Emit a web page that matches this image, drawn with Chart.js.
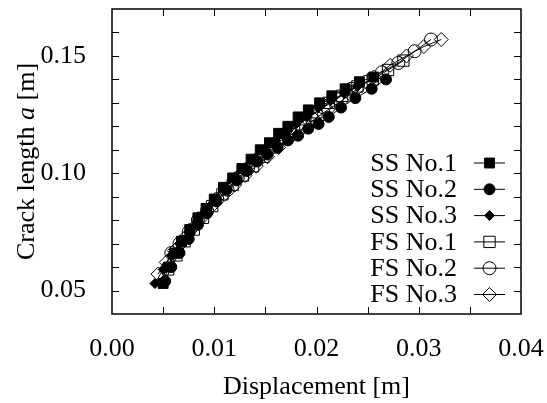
<!DOCTYPE html>
<html>
<head>
<meta charset="utf-8">
<script src="https://cdn.jsdelivr.net/npm/chart.js@4/dist/chart.umd.min.js"></script>
<style>
  html, body { margin: 0; padding: 0; background: #fff; }
  #wrap { width: 547px; height: 403px; }
</style>
</head>
<body>
<div id="wrap"><canvas id="chartCrack" width="547" height="403"></canvas></div>
<script>
var seriesNames = ['SS No.1', 'SS No.2', 'SS No.3', 'FS No.1', 'FS No.2', 'FS No.3'];

var ss1X = [0.0050, 0.0055, 0.0061, 0.0068, 0.0076, 0.0084, 0.0092, 0.0100, 0.0109, 0.0118, 0.0127, 0.0136, 0.0145, 0.0154, 0.0163, 0.0172, 0.0182, 0.0192, 0.0203, 0.0215, 0.0228, 0.0242, 0.0256];
var ss1Y = [0.053, 0.060, 0.066, 0.071, 0.076, 0.081, 0.085, 0.089, 0.094, 0.098, 0.102, 0.106, 0.110, 0.113, 0.117, 0.120, 0.124, 0.127, 0.130, 0.133, 0.136, 0.139, 0.141];

var ss2X = [0.0052, 0.0058, 0.0066, 0.0075, 0.0084, 0.0093, 0.0102, 0.0112, 0.0122, 0.0132, 0.0142, 0.0152, 0.0162, 0.0172, 0.0182, 0.0192, 0.0202, 0.0212, 0.0224, 0.0238, 0.0254, 0.0268];
var ss2Y = [0.054, 0.060, 0.066, 0.072, 0.078, 0.083, 0.088, 0.093, 0.097, 0.101, 0.105, 0.108, 0.111, 0.114, 0.116, 0.119, 0.121, 0.124, 0.128, 0.132, 0.136, 0.140];

var ss3X = [0.0042, 0.0050, 0.0058, 0.0066, 0.0075, 0.0084, 0.0093, 0.0102, 0.0111, 0.0120, 0.0130, 0.0140, 0.0150, 0.0160, 0.0170, 0.0180, 0.0191, 0.0202, 0.0214, 0.0227, 0.0240];
var ss3Y = [0.053, 0.059, 0.065, 0.070, 0.075, 0.080, 0.085, 0.089, 0.094, 0.098, 0.102, 0.106, 0.110, 0.114, 0.117, 0.121, 0.124, 0.128, 0.131, 0.134, 0.137];

var fs1X = [0.0055, 0.0063, 0.0071, 0.0080, 0.0089, 0.0098, 0.0108, 0.0118, 0.0128, 0.0138, 0.0148, 0.0158, 0.0168, 0.0178, 0.0189, 0.0200, 0.0212, 0.0225, 0.0240, 0.0255, 0.0270, 0.0285];
var fs1Y = [0.059, 0.065, 0.071, 0.076, 0.081, 0.086, 0.091, 0.095, 0.099, 0.103, 0.107, 0.111, 0.115, 0.119, 0.123, 0.126, 0.130, 0.133, 0.137, 0.140, 0.144, 0.148];

var fs2X = [0.0058, 0.0066, 0.0075, 0.0084, 0.0093, 0.0103, 0.0113, 0.0123, 0.0133, 0.0143, 0.0153, 0.0163, 0.0173, 0.0184, 0.0195, 0.0207, 0.0220, 0.0234, 0.0249, 0.0264, 0.0280, 0.0296, 0.0312];
var fs2Y = [0.066, 0.070, 0.075, 0.080, 0.084, 0.089, 0.093, 0.098, 0.102, 0.106, 0.110, 0.114, 0.118, 0.121, 0.125, 0.128, 0.132, 0.136, 0.139, 0.143, 0.147, 0.152, 0.157];

var fs3X = [0.0045, 0.0053, 0.0061, 0.0070, 0.0080, 0.0090, 0.0100, 0.0110, 0.0120, 0.0130, 0.0141, 0.0152, 0.0163, 0.0174, 0.0186, 0.0198, 0.0211, 0.0225, 0.0240, 0.0256, 0.0272, 0.0288, 0.0305, 0.0322];
var fs3Y = [0.057, 0.062, 0.067, 0.072, 0.077, 0.082, 0.087, 0.091, 0.095, 0.099, 0.103, 0.107, 0.111, 0.115, 0.119, 0.123, 0.127, 0.131, 0.136, 0.141, 0.146, 0.150, 0.154, 0.157];

var xTickLabels = ['0.00', '0.01', '0.02', '0.03', '0.04'];
var yTickLabels = ['0.05', '0.10', '0.15'];

var FONT = "'Liberation Serif', 'Times New Roman', serif";

function toPoints(xs, ys) {
  var pts = [];
  for (var i = 0; i < xs.length; i++) pts.push({ x: xs[i], y: ys[i] });
  return pts;
}

var markerStyles = [
  { style: 'rect', radius: 7, fill: '#000' },
  { style: 'circle', radius: 5.5, fill: '#000' },
  { style: 'rectRot', radius: 5, fill: '#000' },
  { style: 'rect', radius: 8, fill: 'rgba(0,0,0,0)' },
  { style: 'circle', radius: 6.5, fill: 'rgba(0,0,0,0)' },
  { style: 'rectRot', radius: 7, fill: 'rgba(0,0,0,0)' }
];

var allX = [ss1X, ss2X, ss3X, fs1X, fs2X, fs3X];
var allY = [ss1Y, ss2Y, ss3Y, fs1Y, fs2Y, fs3Y];

var crackData = {
  datasets: seriesNames.map(function (name, i) {
    return {
      label: name,
      data: toPoints(allX[i], allY[i]),
      showLine: true,
      borderColor: '#000',
      borderWidth: 1,
      pointStyle: markerStyles[i].style,
      pointRadius: markerStyles[i].radius,
      pointBackgroundColor: markerStyles[i].fill,
      pointBorderColor: '#000',
      pointBorderWidth: 1
    };
  })
};

function drawMarker(ctx, kind, x, y, r, fill) {
  ctx.beginPath();
  if (kind === 'rect') {
    var h = r * Math.SQRT1_2;
    ctx.rect(x - h, y - h, 2 * h, 2 * h);
  } else if (kind === 'circle') {
    ctx.arc(x, y, r, 0, Math.PI * 2);
  } else {
    ctx.moveTo(x - r, y);
    ctx.lineTo(x, y - r);
    ctx.lineTo(x + r, y);
    ctx.lineTo(x, y + r);
    ctx.closePath();
  }
  ctx.fillStyle = fill;
  ctx.fill();
  ctx.stroke();
}

// frame, inward ticks, y title with italic "a", legend
var framePlugin = {
  id: 'frame',
  afterDraw: function (chart) {
    var ctx = chart.ctx;
    var area = chart.chartArea;
    var xs = chart.scales.x, ys = chart.scales.y;
    ctx.save();
    ctx.strokeStyle = '#000';
    ctx.lineWidth = 1.5;
    ctx.strokeRect(area.left, area.top, area.right - area.left, area.bottom - area.top);

    ctx.lineWidth = 1;
    ctx.beginPath();
    for (var k = 1; k < 8; k++) {
      var px = Math.round(xs.getPixelForValue(k * 0.005)) + 0.5;
      ctx.moveTo(px, area.bottom); ctx.lineTo(px, area.bottom - 7);
      ctx.moveTo(px, area.top); ctx.lineTo(px, area.top + 7);
    }
    for (var j = 5; j <= 16; j++) {
      var py = Math.round(ys.getPixelForValue(j / 100)) + 0.5;
      ctx.moveTo(area.left, py); ctx.lineTo(area.left + 7, py);
      ctx.moveTo(area.right, py); ctx.lineTo(area.right - 7, py);
    }
    ctx.stroke();

    // y axis title
    ctx.save();
    ctx.translate(27, (area.top + area.bottom) / 2);
    ctx.rotate(-Math.PI / 2);
    ctx.fillStyle = '#000';
    ctx.textBaseline = 'middle';
    var parts = [['Crack length ', 'normal'], ['a', 'italic'], [' [m]', 'normal']];
    var total = 0;
    parts.forEach(function (p) {
      ctx.font = p[1] + ' 26px ' + FONT;
      total += ctx.measureText(p[0]).width;
    });
    var cx = -total / 2;
    ctx.textAlign = 'left';
    parts.forEach(function (p) {
      ctx.font = p[1] + ' 26px ' + FONT;
      ctx.fillText(p[0], cx, 0);
      cx += ctx.measureText(p[0]).width;
    });
    ctx.restore();

    // legend
    ctx.font = '26px ' + FONT;
    ctx.textAlign = 'right';
    ctx.textBaseline = 'middle';
    ctx.lineWidth = 1;
    seriesNames.forEach(function (name, i) {
      var ly = 163 + i * 26.3;
      ctx.fillStyle = '#000';
      ctx.fillText(name, 457, ly + 1);
      ctx.beginPath();
      ctx.moveTo(474, ly); ctx.lineTo(505, ly);
      ctx.stroke();
      drawMarker(ctx, markerStyles[i].style, 489.5, ly, markerStyles[i].radius, markerStyles[i].fill);
    });
    ctx.restore();
  }
};

function renderCrackChart() {
  var chartCrack = document.getElementById('chartCrack');
  if (chartCrack) {
    new Chart(chartCrack, {
      type: 'scatter',
      data: crackData,
      plugins: [framePlugin],
      options: {
        responsive: false,
        animation: false,
        layout: { padding: { top: 6, right: 26, left: 0, bottom: 0 } },
        plugins: {
          legend: { display: false },
          tooltip: { enabled: false }
        },
        scales: {
          x: {
            type: 'linear',
            min: 0,
            max: 0.04,
            grid: { display: false },
            border: { display: false },
            afterFit: function (scale) {
              scale.height = 89;
              scale.paddingLeft = 0;
              scale.paddingRight = 0;
            },
            afterBuildTicks: function (scale) {
              scale.ticks = xTickLabels.map(function (t) { return { value: parseFloat(t) }; });
            },
            ticks: {
              color: '#000',
              font: { family: FONT, size: 26 },
              padding: 12,
              maxRotation: 0,
              callback: function (v, i) { return xTickLabels[i]; }
            },
            title: {
              display: true,
              text: 'Displacement [m]',
              color: '#000',
              font: { family: FONT, size: 26 },
              padding: { top: 8, bottom: 0 }
            }
          },
          y: {
            type: 'linear',
            min: 0.04,
            max: 0.17,
            grid: { display: false },
            border: { display: false },
            afterFit: function (scale) {
              scale.width = 112;
              scale.paddingTop = 0;
              scale.paddingBottom = 0;
            },
            afterBuildTicks: function (scale) {
              scale.ticks = yTickLabels.map(function (t) { return { value: parseFloat(t) }; });
            },
            ticks: {
              color: '#000',
              font: { family: FONT, size: 26 },
              padding: 18,
              callback: function (v, i) { return yTickLabels[i]; }
            }
          }
        }
      }
    });
  }
}

renderCrackChart();
</script>
</body>
</html>
